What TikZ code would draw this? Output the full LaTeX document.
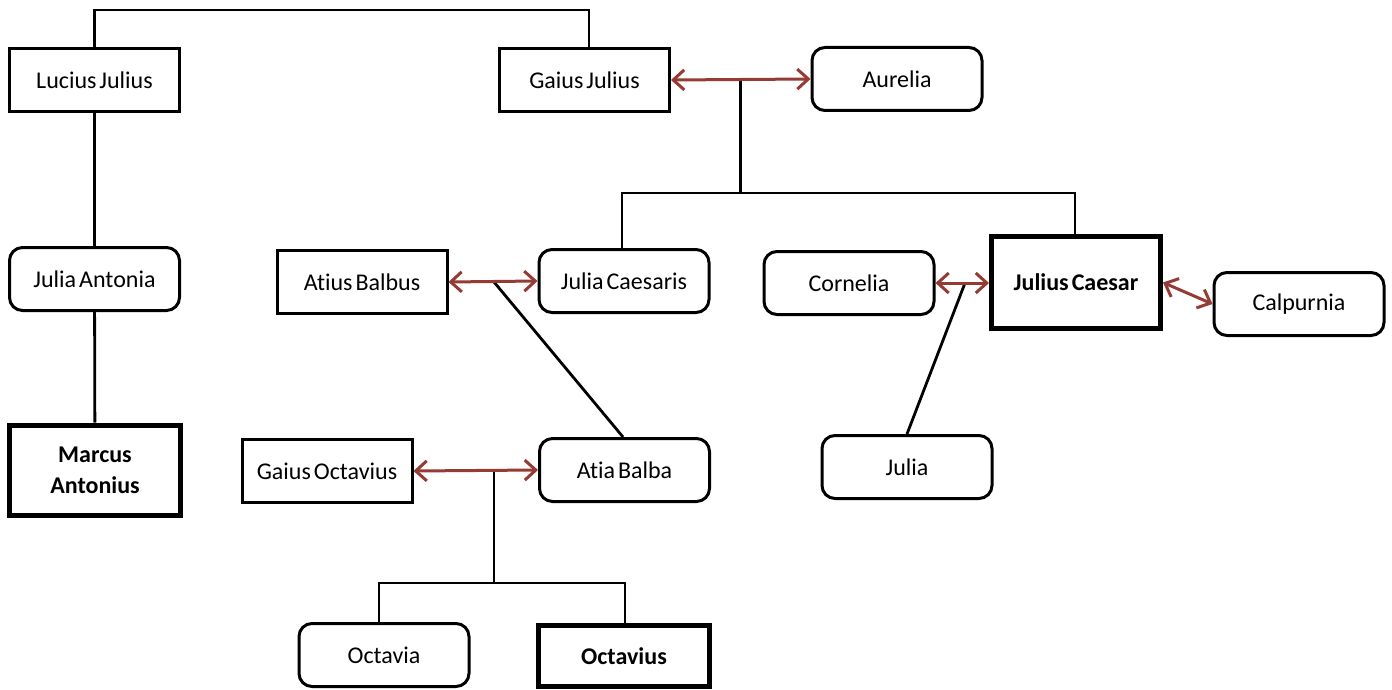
\documentclass[tikz,border=0pt]{standalone}
\usepackage{fontspec}
\setmainfont[Ligatures=NoCommon,WordSpace=0.55]{Carlito}
\usetikzlibrary{arrows.meta,calc}
\definecolor{marriage}{RGB}{150,58,52}
\begin{document}
\begin{tikzpicture}[x=1pt,y=-1pt,
  person/.style={draw=black,line width=3pt,fill=white,inner sep=2pt,
    minimum width=170pt,minimum height=63pt,font=\fontsize{24}{28}\selectfont,align=center},
  soft/.style={person,rounded corners=13pt},
  key/.style={person,line width=5pt,font=\fontsize{24}{31}\selectfont\bfseries},
  kin/.style={line width=2.8pt,draw=black},
  wed/.style={line width=3pt,draw=marriage,{Straight Barb[length=11pt,width=20pt,line width=3pt]}-{Straight Barb[length=11pt,width=20pt,line width=3pt]}}]
\useasboundingbox (0,0) rectangle (1392,690);

% people
\node[person] (lj) at (94.5,80) {Lucius Julius};
\node[person] (gj) at (584.5,80) {Gaius Julius};
\node[soft]   (au) at (897,79) {Aurelia};
\node[soft]   (ja) at (94.5,279) {Julia Antonia};
\node[key,minimum width=171pt,minimum height=90pt] (ma) at (95,470) {Marcus\\Antonius};
\node[person] (ab) at (362,282) {Atius Balbus};
\node[soft]   (jc) at (624,281) {Julia Caesaris};
\node[soft]   (co) at (849,283) {Cornelia};
\node[key,minimum width=169pt,minimum height=92pt] (cs) at (1076,282.5) {Julius Caesar};
\node[soft]   (cp) at (1299,304) {Calpurnia};
\node[person] (go) at (327,471) {Gaius Octavius};
\node[soft]   (at) at (624.5,470) {Atia Balba};
\node[soft]   (ju) at (907,467) {Julia};
\node[soft]   (oc) at (384,655) {Octavia};
\node[key,minimum width=171pt,minimum height=61pt] (ov) at (624,656) {Octavius};

% descent lines
\coordinate (top) at (0,10);
\draw[kin] (lj.north) |- (top -| 589,0) -- (589,0 |- gj.north);
\draw[kin] (lj) -- (ja);
\draw[kin] (ja) -- (ma);

\coordinate (gjm) at ($(gj.east)!0.5!(au.west)$);
\coordinate (gjbar) at (0,193);
\draw[kin] (gjm) -- (gjm |- gjbar);
\draw[kin] (622,0 |- jc.north) |- (gjbar -| 1075,0) -- (1075,0 |- cs.north);

\coordinate (abm) at (494,282);
\draw[kin] (abm) -- (623,0 |- at.north);

\coordinate (com) at (965,283);
\draw[kin] (com) -- (ju.north);

\coordinate (gom) at (494,471);
\coordinate (gobar) at (0,583);
\draw[kin] (gom) -- (gom |- gobar);
\draw[kin] (379,0 |- oc.north) |- (gobar -| 625,0) -- (625,0 |- ov.north);

% marriages
\draw[wed] (gj.east) -- (au.west);
\draw[wed] (ab.east) -- (jc.west);
\draw[wed] (co.east) -- (cs.west |- co.east);
\draw[wed] (cs.east) -- (cp.west);
\draw[wed] (go.east) -- (at.west);
\end{tikzpicture}
\end{document}
